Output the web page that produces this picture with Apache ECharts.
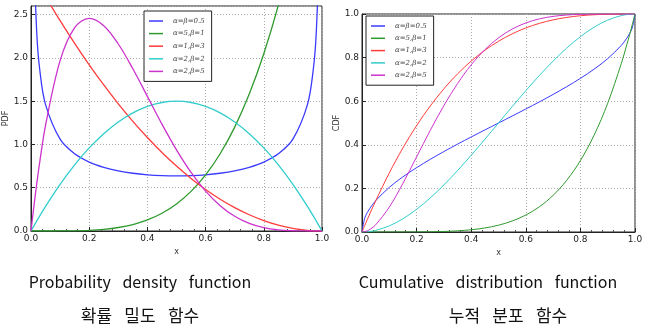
<!DOCTYPE html>
<html>
<head>
<meta charset="utf-8">
<script src="https://cdn.jsdelivr.net/npm/echarts@6/dist/echarts.min.js"></script>
<style>
  html, body { margin: 0; padding: 0; background: #fff; }
  #chart { width: 652px; height: 330px; }
</style>
</head>
<body>
<div id="chart"></div>
<script>
// Sample positions along x (denser near the edges where curves change fast)
const xs = [0, 0.01, 0.02, 0.03, 0.05, 0.1, 0.15, 0.2, 0.25, 0.3, 0.35, 0.4, 0.45, 0.5,
            0.55, 0.6, 0.65, 0.7, 0.75, 0.8, 0.85, 0.9, 0.95, 0.97, 0.98, 0.99, 1];

const seriesNames = ['α=β=0.5', 'α=5,β=1', 'α=1,β=3', 'α=2,β=2', 'α=2,β=5'];
const seriesColors = ['#3b3bff', '#2e9a2e', '#ff3b3b', '#33cccc', '#cc33cc'];

// Probability density values
const pdfHalfHalf = [null, 3.199, 2.274, 1.866, 1.4605, 1.061, 0.8914, 0.7958, 0.7351, 0.6946, 0.6674, 0.6497, 0.6398, 0.6366,
                     0.6398, 0.6497, 0.6674, 0.6946, 0.7351, 0.7958, 0.8914, 1.061, 1.4605, 1.866, 2.274, 3.199, null];
const pdfFiveOne  = [0, 0, 0, 0, 0.00003, 0.0005, 0.0025, 0.008, 0.0195, 0.0405, 0.075, 0.128, 0.205, 0.3125,
                     0.4575, 0.648, 0.8925, 1.2005, 1.582, 2.048, 2.61, 3.2805, 4.0725, 4.4264, 4.612, 4.803, 5];
const pdfOneThree = [3, 2.9403, 2.8812, 2.8227, 2.7075, 2.43, 2.1675, 1.92, 1.6875, 1.47, 1.2675, 1.08, 0.9075, 0.75,
                     0.6075, 0.48, 0.3675, 0.27, 0.1875, 0.12, 0.0675, 0.03, 0.0075, 0.0027, 0.0012, 0.0003, 0];
const pdfTwoTwo   = [0, 0.0594, 0.1176, 0.1746, 0.285, 0.54, 0.765, 0.96, 1.125, 1.26, 1.365, 1.44, 1.485, 1.5,
                     1.485, 1.44, 1.365, 1.26, 1.125, 0.96, 0.765, 0.54, 0.285, 0.1746, 0.1176, 0.0594, 0];
const pdfTwoFive  = [0, 0.2882, 0.5534, 0.7968, 1.2218, 1.9683, 2.349, 2.4576, 2.373, 2.1609, 1.8743, 1.5552, 1.2353, 0.9375,
                     0.6767, 0.4608, 0.2926, 0.1701, 0.0879, 0.0384, 0.0129, 0.0027, 0.0002, 0, 0, 0, 0];

// Cumulative distribution values
const cdfHalfHalf = [0, 0.0638, 0.0903, 0.1108, 0.1436, 0.2048, 0.2532, 0.2952, 0.3333, 0.369, 0.403, 0.4359, 0.4681, 0.5,
                     0.5319, 0.5641, 0.597, 0.631, 0.6667, 0.7048, 0.7468, 0.7952, 0.8564, 0.8892, 0.9097, 0.9362, 1];
const cdfFiveOne  = [0, 0, 0, 0, 0, 0.00001, 0.00008, 0.00032, 0.00098, 0.00243, 0.00525, 0.01024, 0.01845, 0.03125,
                     0.05033, 0.07776, 0.11603, 0.16807, 0.2373, 0.32768, 0.4437, 0.59049, 0.77378, 0.8587, 0.9039, 0.951, 1];
const cdfOneThree = [0, 0.0297, 0.0588, 0.0873, 0.1426, 0.271, 0.3859, 0.488, 0.5781, 0.657, 0.7254, 0.784, 0.8336, 0.875,
                     0.9089, 0.936, 0.9571, 0.973, 0.9844, 0.992, 0.9966, 0.999, 0.9999, 1, 1, 1, 1];
const cdfTwoTwo   = [0, 0.0003, 0.0012, 0.0027, 0.0073, 0.028, 0.0608, 0.104, 0.1563, 0.216, 0.2818, 0.352, 0.4253, 0.5,
                     0.5748, 0.648, 0.7183, 0.784, 0.8438, 0.896, 0.9393, 0.972, 0.9928, 0.9974, 0.9988, 0.9997, 1];
const cdfTwoFive  = [0, 0.0015, 0.0057, 0.0125, 0.0328, 0.1143, 0.2235, 0.3446, 0.4661, 0.5798, 0.6809, 0.7667, 0.8364, 0.8906,
                     0.9308, 0.959, 0.9777, 0.9891, 0.9954, 0.9984, 0.9996, 0.9999, 1, 1, 1, 1, 1];

const pdfSets = [pdfHalfHalf, pdfFiveOne, pdfOneThree, pdfTwoTwo, pdfTwoFive];
const cdfSets = [cdfHalfHalf, cdfFiveOne, cdfOneThree, cdfTwoTwo, cdfTwoFive];

const xTicks = [0, 0.2, 0.4, 0.6, 0.8, 1.0];
const pdfTicks = [0, 0.5, 1.0, 1.5, 2.0, 2.5];
const cdfTicks = [0, 0.2, 0.4, 0.6, 0.8, 1.0];

// Captions under each panel; words are set apart with wide spaces
const captions = [
  { text: 'Probability \u2002density \u2002function', x: 140, y: 282, size: 16 },
  { text: '확률\u2002 밀도\u2002 함수', x: 140, y: 316, size: 17 },
  { text: 'Cumulative \u2002distribution \u2002function', x: 488, y: 282, size: 16 },
  { text: '누적\u2002 분포\u2002 함수', x: 508, y: 316, size: 17 }
];

const tickFont = { fontFamily: 'DejaVu Sans', fontSize: 9, color: '#222' };

function pairs(vals) {
  return xs.map((x, i) => [x, vals[i]]);
}

function makeXAxis(gridIndex) {
  return {
    type: 'value', gridIndex, min: 0, max: 1, interval: 0.2,
    name: 'x', nameLocation: 'middle', nameGap: 9,
    nameTextStyle: { fontFamily: 'DejaVu Sans', fontSize: 8, color: '#333' },
    axisLine: { show: true, lineStyle: { color: '#222', width: 1 } },
    axisTick: { show: true, inside: true, length: 4, lineStyle: { color: '#222' } },
    minorTick: { show: true, splitNumber: 5, length: 2, lineStyle: { color: '#555' } },
    axisLabel: Object.assign({ margin: 3, formatter: v => xTicks.includes(+v.toFixed(2)) ? v.toFixed(1) : '' }, tickFont),
    splitLine: { show: true, lineStyle: { color: '#aaa', type: [1, 2], width: 1 } }
  };
}

function makeYAxis(gridIndex, max, interval, ticks, name, gap) {
  return {
    type: 'value', gridIndex, min: 0, max, interval,
    name, nameLocation: 'middle', nameGap: gap, nameRotate: 90,
    nameTextStyle: { fontFamily: 'DejaVu Sans', fontSize: 8, color: '#333' },
    axisLine: { show: true, lineStyle: { color: '#222', width: 1 } },
    axisTick: { show: true, inside: true, length: 4, lineStyle: { color: '#222' } },
    axisLabel: Object.assign({ margin: 3, showMaxLabel: ticks.includes(max),
      formatter: v => ticks.includes(+v.toFixed(2)) ? v.toFixed(1) : '' }, tickFont),
    splitLine: { show: true, lineStyle: { color: '#aaa', type: [1, 2], width: 1 } }
  };
}

function makeLegend(left, top, gap) {
  return {
    orient: 'vertical', left, top,
    data: seriesNames,
    icon: 'rect', itemWidth: 14, itemHeight: 1.5, itemGap: gap,
    padding: [5, 7, 5, 5],
    backgroundColor: '#fff', borderColor: '#222', borderWidth: 1,
    selectedMode: false,
    textStyle: { fontFamily: 'DejaVu Serif', fontStyle: 'italic', fontSize: 7, color: '#444',
                 lineHeight: 10, padding: [0, 0, 0, 5] }
  };
}

const series = [];
pdfSets.forEach((vals, i) => series.push({
  type: 'line', name: seriesNames[i], xAxisIndex: 0, yAxisIndex: 0,
  data: pairs(vals), smooth: 0.35, showSymbol: false, clip: true,
  lineStyle: { color: seriesColors[i], width: 1.3 }, itemStyle: { color: seriesColors[i] }
}));
cdfSets.forEach((vals, i) => series.push({
  type: 'line', name: seriesNames[i], xAxisIndex: 1, yAxisIndex: 1,
  data: pairs(vals), smooth: 0.35, showSymbol: false, clip: true,
  lineStyle: { color: seriesColors[i], width: 1 }, itemStyle: { color: seriesColors[i] }
}));

const chart = echarts.init(document.getElementById('chart'), null, { renderer: 'canvas' });
chart.setOption({
  animation: false,
  backgroundColor: '#fff',
  grid: [
    { left: 31, top: 6, width: 291, height: 225, show: true, borderColor: '#222', borderWidth: 1, backgroundColor: 'transparent' },
    { left: 362, top: 14, width: 273, height: 218, show: true, borderColor: '#222', borderWidth: 1, backgroundColor: 'transparent' }
  ],
  xAxis: [makeXAxis(0), makeXAxis(1)],
  yAxis: [makeYAxis(0, 2.6, 0.5, pdfTicks, 'PDF', 13), makeYAxis(1, 1, 0.2, cdfTicks, 'CDF', 11)],
  legend: [makeLegend(144, 11, 2.6), makeLegend(366, 16, 2.3)],
  series,
  graphic: captions.map(c => ({
    type: 'text', x: c.x, y: c.y,
    style: { text: c.text, fontFamily: 'Noto Sans CJK KR', fontSize: c.size, fill: '#111',
             align: 'center', verticalAlign: 'middle' }
  }))
});
</script>
</body>
</html>
